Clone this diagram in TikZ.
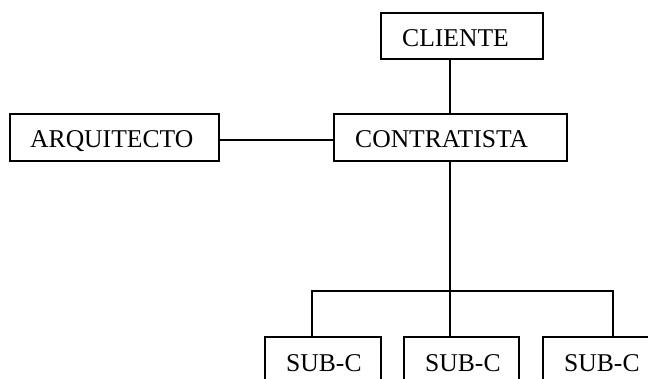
\documentclass[tikz,border=0pt]{standalone}
\usepackage{fontspec}
\setmainfont{Liberation Serif}
\usetikzlibrary{calc}
\tikzset{
  box/.style={draw, line width=1.3pt, rectangle, inner sep=0pt, outer sep=0pt},
  lbl/.style={anchor=base west, inner sep=0pt, font=\fontsize{25.6}{30}\selectfont},
  link/.style={line width=1.3pt}
}
\begin{document}
\begin{tikzpicture}[x=1pt, y=-1pt]
  \clip (0,0) rectangle (648,379);
  % boxes
  \node[box, minimum width=162pt, minimum height=46pt] (cli) at (462,36) {};
  \node[box, minimum width=209pt, minimum height=47pt] (arq) at (114.5,137.5) {};
  \node[box, minimum width=233pt, minimum height=47pt] (con) at (450.5,137.5) {};
  \node[box, minimum width=116pt, minimum height=47pt] (sub1) at (323,360.5) {};
  \node[box, minimum width=115pt, minimum height=47pt] (sub2) at (461.5,360.5) {};
  \node[box, minimum width=116pt, minimum height=47pt] (sub3) at (601,360.5) {};
  % labels
  \node[lbl] (tcli) at ($(cli.north west)+(21,34)$) {CLIENTE};
  \node[lbl] (tarq) at ($(arq.north west)+(20,34)$) {ARQUITECTO};
  \node[lbl] (tcon) at ($(con.north west)+(21,34)$) {CONTRATISTA};
  \node[lbl] (ts1) at ($(sub1.north west)+(21,34)$) {SUB-C};
  \node[lbl] (ts2) at ($(sub2.north west)+(21,34)$) {SUB-C};
  \node[lbl] (ts3) at ($(sub3.north west)+(21,34)$) {SUB-C};
  % connectors
  \coordinate (top) at ($(con.north)+(-0.5,0)$);
  \coordinate (bot) at ($(con.south)+(-0.5,0)$);
  \coordinate (bus) at (450,291);
  \coordinate (bl) at (312,291);
  \coordinate (br) at (613,291);
  \draw[link] (top) -- (top |- cli.south);
  \draw[link] ($(arq.east)+(0,2.5)$) -- ($(con.west)+(0,2.5)$);
  \draw[link] (bot) -- (bus);
  \draw[link] (sub1.north -| bl) -- (bl) -- (br) -- (sub3.north -| br);
  \draw[link] (bus) -- (bus |- sub2.north);
\end{tikzpicture}
\end{document}
